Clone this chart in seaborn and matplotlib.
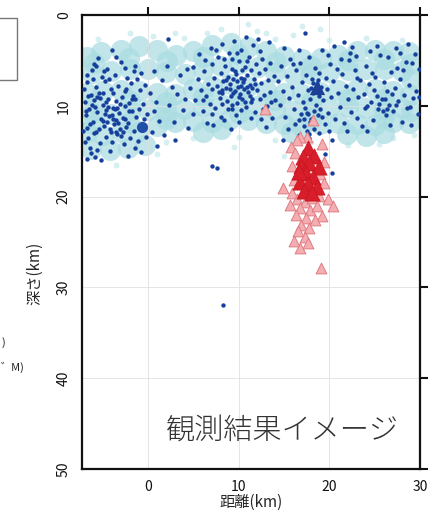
import matplotlib
matplotlib.use('Agg')
import matplotlib.pyplot as plt
import seaborn as sns
import pandas as pd
from matplotlib.patches import Rectangle

sns.set_style('white')
plt.rcParams['font.family'] = ['Noto Sans CJK JP', 'DejaVu Sans']

# ---------------- data (distance km, depth km) ----------------
cloud_points = [
    (-6.8, 4.6), (-5.2, 4.1), (-3.0, 3.8), (-1.0, 3.4), (1.0, 3.9), (3.1, 4.4), (5.0, 4.0), (7.0, 3.3),
    (9.1, 3.1), (11.0, 3.5), (13.0, 4.0), (15.0, 4.5), (17.0, 4.8), (19.1, 4.7), (21.0, 4.4), (23.0, 4.0),
    (25.0, 3.8), (27.0, 4.0), (28.8, 4.1),
    (-6.2, 6.4), (-4.1, 6.2), (-2.0, 5.9), (0.0, 6.0), (2.0, 6.3), (4.1, 6.5), (6.0, 5.9), (8.0, 5.6),
    (10.0, 5.4), (12.1, 5.7), (14.0, 6.3), (16.1, 6.6), (18.0, 6.5), (20.0, 6.3), (22.1, 6.1), (24.0, 5.9),
    (26.1, 6.0), (28.0, 6.2), (29.0, 7.0),
    (-6.8, 8.6), (-5.0, 8.4), (-3.0, 8.3), (-1.0, 8.4), (1.0, 8.6), (3.0, 8.7), (5.0, 8.2), (7.0, 7.8),
    (9.0, 7.6), (11.0, 7.8), (13.0, 8.3), (15.0, 8.6), (17.0, 8.7), (19.0, 8.5), (21.0, 8.3), (23.0, 8.1),
    (25.0, 8.2), (27.0, 8.4), (28.9, 8.8),
    (-6.2, 10.8), (-4.1, 10.9), (-2.0, 10.6), (0.0, 10.5), (2.0, 10.6), (4.0, 10.4), (6.0, 10.0), (8.0, 9.8),
    (10.0, 9.8), (12.0, 10.0), (14.0, 10.3), (16.0, 10.6), (18.1, 10.5), (20.0, 10.2), (22.0, 10.1),
    (24.0, 10.2), (26.0, 10.3), (28.0, 10.2), (29.0, 10.6),
    (-6.8, 12.9), (-5.0, 13.2), (-3.0, 12.9), (-1.0, 12.8), (1.0, 12.2), (3.0, 11.8), (5.0, 11.7), (7.0, 11.8),
    (9.0, 11.5), (11.0, 11.6), (13.0, 11.9), (15.0, 12.0), (17.0, 12.3), (19.0, 12.0), (21.0, 11.9),
    (23.0, 12.0), (25.0, 12.1), (27.0, 11.8), (28.8, 11.9),
    (-6.3, 14.8), (-4.2, 14.9), (-2.2, 14.7), (-0.3, 14.3), (6.0, 12.9), (8.0, 12.6), (15.8, 12.9),
    (21.9, 13.1), (24.0, 13.3), (26.0, 13.0),
    (-6.0, 5.3), (-2.1, 4.7), (2.1, 5.1), (6.1, 4.6), (9.9, 4.3), (14.1, 5.2), (18.0, 5.6), (22.0, 5.0),
    (26.0, 4.9), (28.9, 5.4), (-6.0, 9.7), (-2.0, 9.5), (2.0, 9.6), (6.0, 9.0), (10.0, 8.8), (14.0, 9.4),
    (18.0, 9.6), (22.0, 9.2), (26.0, 9.3), (-6.1, 12.0), (-2.1, 11.8), (2.0, 11.4),
    (10.0, 10.8), (18.0, 11.4), (26.0, 11.2),
]

fringe_points = [
    (-2.0, 2.0), (0.5, 2.3), (4.0, 2.5), (8.0, 1.5), (12.0, 1.8), (14.0, 2.6), (16.0, 2.2), (20.0, 2.8),
    (24.0, 2.5), (28.0, 2.7), (2.0, 14.0), (5.0, 13.6), (10.0, 13.4), (14.0, 13.8), (18.0, 14.0),
    (22.0, 14.3), (27.0, 13.5), (11.0, 1.0), (13.0, 2.0), (9.5, 14.5), (15.0, 15.5), (19.0, 1.5),
    (-5.5, 2.6), (-3.5, 16.5), (1.0, 15.3), (3.0, 2.0), (6.5, 2.0), (25.5, 14.2), (29.3, 13.2), (17.0, 1.2),
]

blue_points = [
    # western cluster
    (-7.1, 8.2), (-7.0, 9.6), (-6.9, 11.0), (-6.8, 12.4), (-6.7, 7.4), (-6.6, 13.5), (-6.5, 10.3), (-6.4, 14.6),
    (-6.3, 8.8), (-6.2, 6.1), (-6.1, 11.8), (-6.0, 9.4), (-5.9, 15.6), (-5.8, 7.9), (-5.7, 12.9), (-5.6, 10.7),
    (-5.5, 4.7), (-5.4, 8.6), (-5.3, 14.1), (-5.2, 11.4), (-5.1, 6.8), (-5.0, 9.9), (-4.9, 12.2), (-4.8, 7.3),
    (-4.7, 10.5), (-4.6, 13.4), (-4.5, 5.9), (-4.4, 9.2), (-4.3, 11.1), (-4.2, 15.0), (-4.1, 8.1), (-4.0, 3.9),
    (-3.9, 10.2), (-3.8, 12.0), (-3.7, 6.6), (-3.6, 11.6), (-3.5, 9.5), (-3.4, 13.1), (-3.3, 7.8), (-3.2, 10.8),
    (-3.1, 12.6), (-3.0, 5.2), (-2.9, 9.0), (-2.8, 11.3), (-2.7, 14.2), (-2.6, 8.4), (-2.5, 10.0), (-2.4, 12.3),
    (-2.3, 6.9), (-2.2, 11.9), (-2.1, 9.7), (-2.0, 13.6), (-1.9, 7.5), (-1.8, 10.6), (-1.7, 8.9), (-1.6, 12.8),
    (-1.5, 5.6), (-1.4, 9.3), (-1.3, 11.2), (-1.2, 7.1), (-1.1, 13.9), (-1.0, 10.4), (-0.9, 8.3), (-0.8, 6.4),
    (-0.6, 9.8), (-0.5, 11.5), (-0.3, 7.7), (-0.1, 10.9), (0.2, 8.6), (0.4, 12.9), (0.6, 6.2), (0.9, 9.6),
    (1.2, 11.7), (1.5, 7.2),
    (-4.8, 10.9), (-4.5, 11.8), (-4.2, 12.5), (-3.9, 11.4), (-3.6, 12.9), (-3.3, 11.9), (-3.0, 13.3),
    (-4.4, 10.1), (-4.0, 11.0), (-3.7, 10.4), (-5.3, 9.1), (-5.0, 8.6), (-5.6, 9.0), (-6.2, 9.9), (-6.6, 8.9),
    (-6.9, 10.6), (-2.8, 12.9), (-2.5, 11.5), (-3.4, 10.2), (-4.6, 9.6), (-5.9, 10.1), (-6.4, 12.0),
    (-5.4, 12.6), (-2.1, 10.6), (-1.8, 9.2), (-4.9, 6.2), (-3.5, 4.6), (-2.6, 5.8), (-6.0, 5.4), (-5.2, 16.0),
    (-7.0, 14.0), (-6.3, 15.2), (-1.5, 14.6), (-0.8, 15.1),
    (-6.8, 6.6), (-6.1, 7.1), (-5.7, 5.6), (-4.3, 7.0), (-3.9, 8.6), (-3.1, 9.8), (-2.4, 8.1), (-1.6, 6.2),
    (-0.9, 12.4), (-0.2, 13.4), (0.7, 10.6), (1.0, 14.4), (-6.7, 15.9), (-5.6, 14.9), (-4.0, 14.0),
    (-2.2, 15.5), (-7.2, 12.8), (-6.0, 13.0), (-5.0, 11.7), (-4.1, 12.9),
    # sparse middle
    (1.8, 13.2), (2.1, 5.6), (2.3, 9.9), (2.6, 7.9), (2.9, 11.8), (3.2, 8.7), (3.5, 6.6), (3.8, 10.5),
    (4.1, 9.2), (4.4, 12.4), (4.6, 8.0), (4.9, 10.9), (2.2, 2.6), (3.0, 13.8), (4.3, 6.0),
    # central cluster
    (5.2, 9.4), (5.5, 7.1), (5.8, 8.3), (6.0, 10.6), (6.2, 6.2), (6.4, 8.9), (6.6, 7.6), (6.8, 9.8),
    (7.0, 5.4), (7.1, 8.1), (7.3, 6.9), (7.4, 10.2), (7.6, 7.8), (7.7, 4.6), (7.9, 9.1), (8.0, 6.4),
    (8.1, 8.6), (8.2, 3.2), (8.3, 7.3), (8.4, 11.6), (8.5, 5.6), (8.6, 8.0), (8.7, 9.5), (8.8, 6.8),
    (8.9, 4.2), (9.0, 7.6), (9.1, 8.9), (9.2, 5.9), (9.3, 10.3), (9.4, 7.1), (9.5, 2.9), (9.6, 8.4),
    (9.7, 6.5), (9.8, 9.7), (9.9, 7.9), (10.0, 5.1), (10.1, 8.7), (10.2, 6.9), (10.3, 3.8), (10.4, 9.2),
    (10.5, 7.4), (10.6, 8.2), (10.7, 5.7), (10.8, 10.1), (10.9, 6.6), (11.0, 8.5), (11.1, 4.6), (11.2, 7.7),
    (11.3, 9.6), (11.4, 6.1), (11.5, 8.0), (11.6, 3.3), (11.7, 7.0), (11.8, 10.7), (11.9, 5.4), (12.0, 8.3),
    (12.2, 6.4), (12.3, 9.3), (12.5, 7.5), (12.6, 4.9), (12.8, 8.8), (12.9, 6.0), (13.1, 10.0), (13.2, 7.2),
    (13.4, 5.3), (13.5, 8.5), (13.7, 11.3), (13.9, 6.7), (14.0, 9.4),
    (9.0, 8.2), (9.4, 8.6), (9.8, 7.3), (10.2, 7.8), (10.6, 7.0), (10.9, 7.9), (10.0, 9.0), (9.6, 6.2),
    (10.4, 6.1), (8.6, 7.2), (8.2, 8.3), (11.2, 8.9), (11.5, 9.3), (10.7, 9.6), (9.2, 9.9), (8.8, 10.4),
    (7.8, 8.5), (11.8, 7.6), (10.3, 10.5), (9.7, 11.0), (8.0, 11.2), (6.5, 11.9), (7.2, 12.1), (12.4, 11.5),
    (13.0, 12.3), (5.0, 5.7), (12.1, 2.6), (6.9, 3.6), (10.8, 2.4), (9.3, 4.9),
    (5.6, 4.3), (6.3, 5.0), (7.5, 3.9), (8.4, 4.9), (9.8, 4.2), (10.9, 5.1), (12.3, 4.0), (13.3, 3.0),
    (6.1, 9.4), (7.0, 10.9), (8.1, 9.8), (12.7, 10.4), (13.6, 9.6), (11.4, 11.3), (10.0, 11.8), (9.1, 12.6),
    # eastern cluster
    (14.3, 7.3), (14.5, 9.9), (14.7, 5.6), (14.9, 8.4), (15.1, 11.2), (15.3, 6.7), (15.5, 9.1), (15.7, 4.8),
    (15.9, 7.9), (16.1, 10.4), (16.3, 6.1), (16.5, 8.8), (16.7, 11.6), (16.8, 5.3), (17.0, 7.4), (17.1, 9.6),
    (17.2, 12.2), (17.4, 6.6), (17.5, 10.8), (17.6, 8.3), (17.7, 13.1), (17.8, 4.6), (17.9, 9.2), (18.0, 11.4),
    (18.1, 7.0), (18.2, 8.6), (18.3, 12.5), (18.4, 5.8), (18.5, 9.9), (18.6, 7.6), (18.7, 11.0), (18.8, 8.9),
    (18.9, 6.4), (19.0, 10.3), (19.1, 7.9), (19.2, 3.9), (19.3, 9.4), (19.5, 12.0), (19.6, 6.9), (19.7, 8.2),
    (19.9, 10.8), (20.1, 5.4), (20.2, 9.0), (20.4, 7.3), (20.6, 11.5), (20.8, 6.0), (17.3, 10.2), (17.6, 10.9),
    (17.9, 11.8), (17.5, 12.8), (17.8, 13.6), (17.2, 11.4), (18.3, 10.6), (18.0, 8.0), (18.4, 8.3),
    (18.7, 7.2), (18.2, 7.5), (19.0, 8.5), (16.9, 10.9), (16.6, 13.2), (17.3, 2.0),
    (15.0, 3.6), (16.0, 5.4), (16.7, 3.9), (19.8, 4.4), (20.5, 3.4), (15.4, 12.6), (16.2, 12.0),
    (19.2, 11.2), (20.0, 12.8), (18.8, 13.0),
    # far east
    (21.0, 8.6), (21.2, 10.1), (21.4, 6.5), (21.6, 11.9), (21.8, 7.8), (22.0, 9.3), (22.2, 5.0), (22.4, 10.7),
    (22.6, 8.2), (22.8, 6.1), (23.0, 11.3), (23.2, 9.0), (23.4, 7.2), (23.6, 12.2), (23.8, 8.7), (24.0, 5.6),
    (24.2, 10.0), (24.4, 7.6), (24.6, 9.6), (24.8, 11.6), (25.0, 6.8), (25.2, 8.9), (25.4, 10.4), (25.6, 4.4),
    (25.8, 9.3), (26.0, 7.4), (26.2, 11.0), (26.4, 8.4), (26.6, 9.9), (26.8, 6.3), (27.0, 10.6), (27.2, 8.0),
    (27.4, 3.6), (27.6, 9.5), (27.8, 7.1), (28.0, 11.8), (28.2, 8.8), (28.4, 5.2), (28.6, 10.2), (28.8, 7.7),
    (29.0, 12.1), (29.2, 9.1), (29.4, 4.3), (29.6, 8.4), (29.8, 10.9), (26.1, 9.2), (25.5, 9.8), (26.9, 8.7),
    (25.9, 10.6), (27.3, 9.9), (24.9, 8.3), (26.4, 10.3), (23.9, 10.2), (27.8, 4.2), (28.7, 3.2), (22.5, 3.5),
    (21.6, 3.0), (29.9, 6.0), (25.2, 3.4), (22.3, 4.2),
    (21.3, 4.8), (22.9, 4.5), (24.5, 4.0), (26.5, 4.6), (28.1, 6.1), (29.1, 5.3), (21.9, 12.8), (24.1, 12.8),
    (26.7, 12.1), (28.9, 10.1), (29.9, 9.0), (23.1, 6.9), (24.7, 6.4), (27.5, 5.8),
    # isolated
    (7.1, 16.6), (7.6, 16.8), (8.3, 31.9), (14.9, 13.8), (20.3, 13.8), (20.3, 17.4), (19.5, 15.3), (16.8, 17.8),
]

big_blue_circle = [(-0.7, 12.3)]
big_blue_triangle = [(18.6, 7.9)]

dark_red_triangles = [
    (17.6, 14.6), (17.1, 15.6), (18.3, 15.5), (16.9, 16.6), (17.8, 16.3), (18.8, 16.7), (17.4, 17.4),
    (18.2, 17.8), (16.8, 18.4), (17.6, 18.6), (18.6, 18.9), (17.2, 19.4), (18.1, 19.6), (16.6, 17.3),
]

pink_triangles = [
    (12.9, 10.3), (18.2, 11.6), (17.5, 13.4), (16.8, 13.4), (16.4, 13.8), (15.8, 14.5), (19.2, 14.2),
    (16.2, 15.2), (19.4, 16.2), (15.9, 16.6), (19.0, 17.5), (16.1, 18.2), (19.4, 18.5), (14.9, 19.0),
    (15.9, 19.6), (18.9, 19.9), (16.4, 20.3), (17.3, 20.6), (18.1, 20.1), (19.9, 20.3), (20.4, 21.0),
    (15.6, 20.9), (16.8, 21.3), (17.9, 21.5), (18.6, 21.0), (19.2, 22.1), (16.3, 22.0), (17.4, 22.4),
    (18.4, 22.6), (16.9, 23.1), (17.8, 23.5), (16.5, 23.8), (17.3, 24.4), (16.1, 24.9), (17.6, 25.1),
    (16.8, 25.7), (19.1, 27.9),
]

x_ticks = [0, 10, 20, 30]
y_ticks = [0, 10, 20, 30, 40, 50]


def frame(points):
    return pd.DataFrame(points, columns=['distance', 'depth'])


# ---------------- figure ----------------
fig = plt.figure(figsize=(4.39, 5.2), dpi=100)
ax = fig.add_axes([82 / 439, 1 - 469 / 520, 338 / 439, 454 / 520])
ax.set_xlim(-7.3, 30)
ax.set_ylim(50, 0)

layers = [
    dict(data=frame(fringe_points), s=18, color='#d6eff1', linewidth=0, zorder=0.4),
    dict(data=frame(cloud_points), s=230, color='#a9dce1', alpha=0.72, linewidth=0, zorder=0.5),
    dict(data=frame(blue_points), s=10, color='#16409c', linewidth=0, zorder=5),
    dict(data=frame(big_blue_circle), s=65, color='#1f4fa8', linewidth=0, zorder=6),
    dict(data=frame(big_blue_triangle), s=120, marker='^', color='#1d3f96', linewidth=0, zorder=6),
    dict(data=frame(pink_triangles), s=60, marker='^', color='#f4aeb1', edgecolor='#e07b82',
         linewidth=0.7, zorder=7),
    dict(data=frame(dark_red_triangles), s=120, marker='^', color='#d71e2a', edgecolor='#c8141f',
         linewidth=0.5, zorder=8),
]
for kw in layers:
    sns.scatterplot(x='distance', y='depth', ax=ax, legend=False, **kw)

# white margins outside the frame so the large cloud markers end at the frame
for (mx, my, mw, mh) in [(1.0, -0.1, 0.2, 1.2), (-0.3, -0.1, 0.3, 1.2), (-0.3, 1.0, 1.6, 0.1)]:
    ax.add_patch(Rectangle((mx, my), mw, mh, transform=ax.transAxes, clip_on=False,
                           facecolor='white', edgecolor='none', zorder=1.0))

ax.set_xlim(-7.3, 30)
ax.set_ylim(50, 0)
ax.set_xticks(x_ticks)
ax.set_yticks(y_ticks)
ax.grid(True, color='#e0e0e0', linewidth=0.6)
ax.set_axisbelow('line')
ax.tick_params(direction='out', length=6, width=1.5, top=True, right=True, pad=2,
               labeltop=False, labelright=False, labelsize=10, colors='#111')
for lab in ax.get_yticklabels():
    lab.set_rotation(90)
    lab.set_va('center')
for sp in ax.spines.values():
    sp.set_linewidth(1.6)
    sp.set_color('#111')

ax.set_xlabel('距離(km)', fontsize=11, labelpad=0)
ax.set_ylabel('深さ(km)', fontsize=11)
ax.yaxis.set_label_coords(-0.115, 0.43)

ax.text(14.8, 45.7, '観測結果イメージ', fontsize=21, color='#333', ha='center', va='center',
        fontweight='light', zorder=9)

# partial elements at left edge (cut-off legend)
fig.patches.append(Rectangle((-0.05, 1 - 80 / 520), 0.05 + 17 / 439, 62 / 520,
                             transform=fig.transFigure, fill=False, ec='#777', lw=1))
fig.text(2 / 439, 1 - 343 / 520, ')', fontsize=8, ha='left', va='center', color='#222')
fig.text(1 / 439, 1 - 367 / 520, '゛M)', fontsize=8, ha='left', va='center', color='#222')

fig.savefig('out.png', dpi=100)
